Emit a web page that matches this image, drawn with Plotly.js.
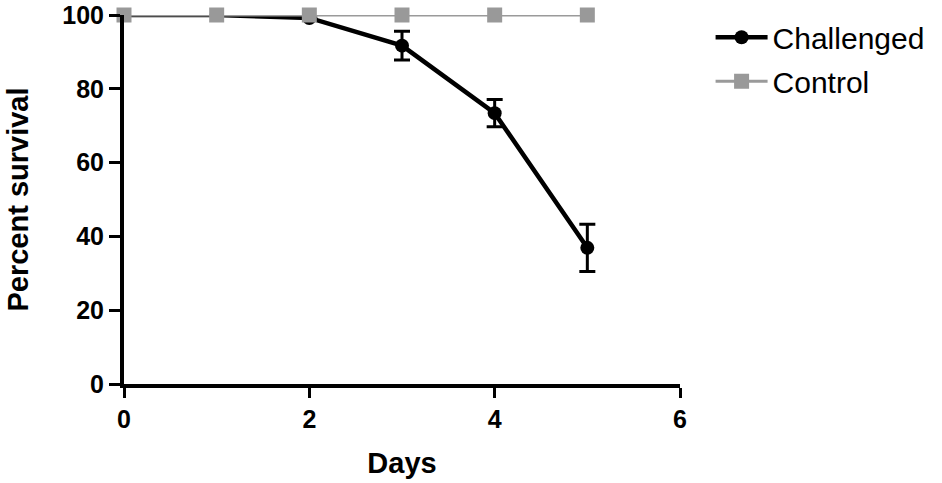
<!DOCTYPE html>
<html>
<head>
<meta charset="utf-8">
<script src="https://cdn.plot.ly/plotly-3.0.1.min.js"></script>
<style>html,body{margin:0;padding:0;background:#fff;}#chart{width:942px;height:483px;}</style>
</head>
<body>
<div id="chart"></div>
<script>
const days = [0, 1, 2, 3, 4, 5];
const challenged = [100, 100, 99.2, 91.7, 73.4, 36.9];
const challengedErr = [0, 0, 0, 3.9, 3.7, 6.4];
const control = [100, 100, 100, 100, 100, 100];
const xTicks = [0, 2, 4, 6];
const yTicks = [0, 20, 40, 60, 80, 100];

const fontFam = 'Arial, "Liberation Sans", sans-serif';

const traces = [
  {
    x: days, y: challenged, name: 'Challenged', type: 'scatter', mode: 'lines+markers',
    legendgroup: 'a',
    line: {color: '#000', width: 4.5},
    marker: {color: '#000', size: 14, symbol: 'circle'},
    error_y: {type: 'data', array: challengedErr, visible: true, color: '#000', thickness: 3, width: 8},
    cliponaxis: false
  },
  {
    x: days, y: control, name: 'Control', type: 'scatter', mode: 'lines+markers',
    legendgroup: 'b',
    line: {color: '#9a9a9a', width: 3},
    marker: {color: '#999999', size: 15, symbol: 'square'},
    cliponaxis: false
  }
];

const layout = {
  width: 942, height: 483,
  margin: {l: 124, r: 262, t: 15, b: 99, autoexpand: false},
  paper_bgcolor: '#fff', plot_bgcolor: '#fff',
  font: {family: fontFam, color: '#000'},
  showlegend: true,
  legend: {x: 1.055, y: 1.01, xanchor: 'left', yanchor: 'top', font: {size: 30, family: fontFam},
           itemwidth: 52, traceorder: 'grouped', tracegroupgap: 2},
  xaxis: {
    range: [0, 6], tickvals: xTicks, ticktext: xTicks.map(String),
    showgrid: false, zeroline: false, showline: true, linecolor: '#000', linewidth: 4,
    ticks: 'outside', ticklen: 10, tickwidth: 3, tickcolor: '#000',
    tickfont: {size: 25, weight: 'bold', family: fontFam},
    title: {text: 'Days', font: {size: 29, weight: 'bold', family: fontFam}, standoff: 22}
  },
  yaxis: {
    range: [0, 100], tickvals: yTicks, ticktext: yTicks.map(String),
    showgrid: false, zeroline: false, showline: true, linecolor: '#000', linewidth: 4,
    ticks: 'outside', ticklen: 11, tickwidth: 3, tickcolor: '#000',
    tickfont: {size: 25, weight: 'bold', family: fontFam},
    title: {text: 'Percent survival', font: {size: 29, weight: 'bold', family: fontFam}, standoff: 26}
  }
};

Plotly.newPlot('chart', traces, layout, {displayModeBar: false, staticPlot: true});
</script>
</body>
</html>
